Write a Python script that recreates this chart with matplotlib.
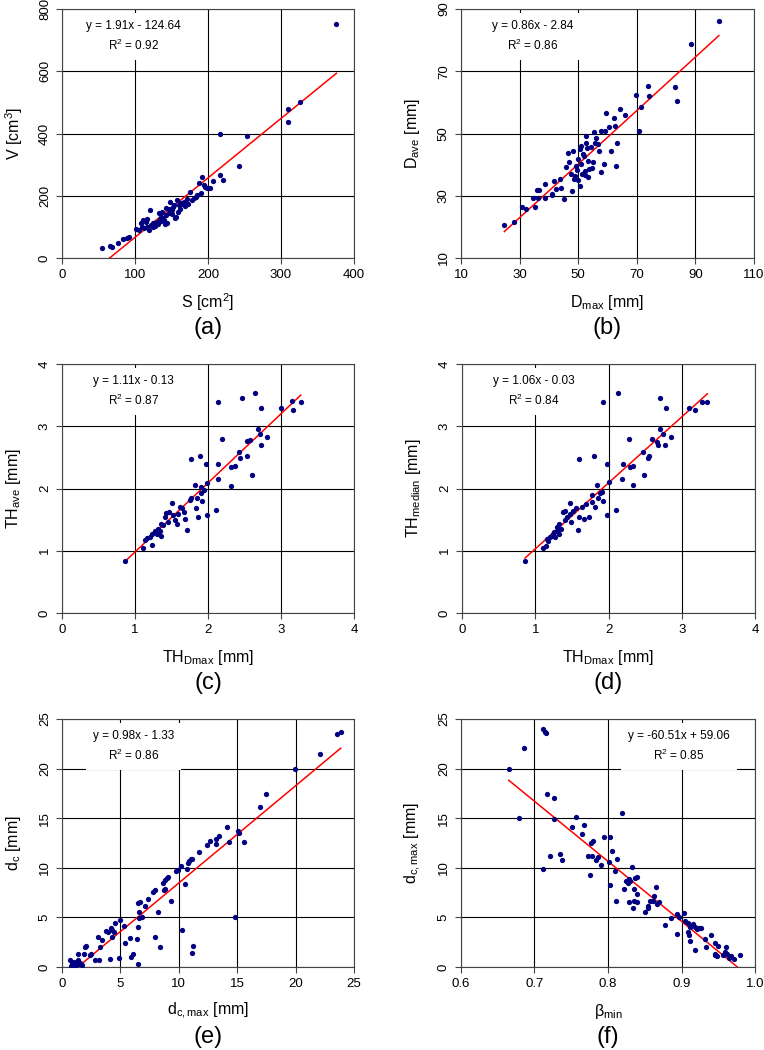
import numpy as np
import matplotlib
matplotlib.use('Agg')
import matplotlib.pyplot as plt

plt.rcParams['font.family'] = ['Liberation Sans', 'DejaVu Sans']
plt.rcParams['mathtext.fontset'] = 'custom'
plt.rcParams['mathtext.rm'] = 'Liberation Sans'
plt.rcParams['mathtext.it'] = 'Liberation Sans:italic'
plt.rcParams['mathtext.default'] = 'regular'

# (a) surface vs volume
S_a = [55, 66, 68, 77, 84, 89, 92, 101, 105, 108, 110, 111, 113, 115, 117, 117, 119,
       121, 122, 124, 125, 126, 128, 130, 131, 133, 134, 135, 136, 137, 138, 140, 141,
       142, 143, 144, 146, 147, 148, 150, 151, 152, 153, 155, 156, 158, 159, 160, 162,
       163, 165, 167, 169, 171, 173, 175, 178, 181, 183, 185, 187, 190, 192, 194, 196,
       199, 203, 207, 216, 217, 220, 242, 254, 309, 310, 326, 376]
V_a = [31, 38, 34, 47, 61, 65, 66, 93, 90, 111, 100, 122, 95, 117, 124, 100, 90,
       154, 105, 100, 112, 111, 104, 117, 108, 143, 126, 133, 120, 149, 128, 122, 110,
       138, 160, 111, 159, 146, 181, 140, 154, 165, 170, 128, 133, 186, 149, 170, 159,
       178, 175, 181, 168, 191, 175, 213, 186, 192, 197, 202, 240, 210, 261, 234, 229,
       224, 224, 247, 400, 268, 252, 296, 392, 437, 478, 500, 753]

# (b) Dmax vs Dave
Dmax_b = [24.8, 28.2, 30.8, 32.1, 34.5, 35.3, 35.9, 36.7, 36.4, 38.5, 38.5, 41.0, 41.2,
          41.9, 42.3, 43.8, 44.1, 45.3, 45.7, 46.6, 46.8, 47.5, 47.9, 48.3, 48.6, 49.2,
          49.5, 49.8, 50.0, 50.6, 50.6, 50.9, 51.1, 51.4, 52.0, 52.3, 52.5, 52.8, 53.2,
          53.4, 53.6, 54.3, 55.1, 55.4, 55.7, 56.2, 56.8, 57.1, 57.9, 57.9, 58.8, 59.3,
          59.6, 60.4, 61.1, 62.2, 62.7, 63.0, 63.3, 64.1, 66.0, 69.8, 70.9, 71.5, 73.8,
          74.1, 82.9, 83.8, 88.6, 98.0, 51.5, 53.0, 49.0, 52.2, 54.8]
Dave_b = [20.5, 21.7, 26.3, 25.8, 29.2, 26.5, 31.8, 32.0, 29.2, 33.9, 29.2, 30.2, 30.7,
          34.7, 32.3, 35.5, 32.6, 28.8, 39.2, 43.7, 40.8, 37.1, 31.5, 44.5, 35.5, 39.7,
          38.4, 35.0, 41.9, 45.0, 33.1, 40.3, 46.1, 37.1, 42.9, 38.1, 49.3, 47.1, 41.3,
          36.0, 38.7, 45.6, 40.8, 50.6, 47.1, 48.7, 46.6, 44.5, 50.8, 37.6, 40.1, 50.8,
          56.5, 52.1, 44.5, 55.1, 52.4, 39.4, 47.1, 58.0, 55.9, 62.5, 50.8, 58.6, 65.3,
          62.1, 64.8, 60.6, 78.8, 86.0, 43.5, 45.5, 36.5, 36.8, 39.0]

# (c) TH_Dmax vs TH_ave
THd_c = [0.86, 1.11, 1.14, 1.16, 1.23, 1.20, 1.23, 1.27, 1.28, 1.30, 1.32, 1.34, 1.35,
         1.36, 1.38, 1.41, 1.43, 1.45, 1.47, 1.50, 1.52, 1.55, 1.57, 1.59, 1.62, 1.64,
         1.67, 1.69, 1.71, 1.75, 1.77, 1.77, 1.82, 1.83, 1.85, 1.86, 1.89, 1.90, 1.91,
         1.92, 1.95, 1.97, 1.98, 1.99, 2.11, 2.14, 2.14, 2.14, 2.19, 2.31, 2.32, 2.37,
         2.43, 2.44, 2.46, 2.54, 2.54, 2.57, 2.60, 2.65, 2.68, 2.71, 2.73, 2.73, 2.81,
         3.00, 3.15, 3.16, 3.27]
THa_c = [0.84, 1.05, 1.17, 1.21, 1.09, 1.22, 1.27, 1.32, 1.30, 1.27, 1.35, 1.31, 1.43,
         1.24, 1.41, 1.54, 1.61, 1.46, 1.62, 1.76, 1.57, 1.49, 1.43, 1.59, 1.70, 1.68,
         1.62, 1.51, 1.34, 1.81, 1.84, 2.47, 2.06, 1.69, 1.85, 1.54, 2.52, 1.93, 2.02,
         1.80, 1.97, 2.39, 2.09, 1.57, 1.66, 3.39, 2.39, 2.15, 2.80, 2.04, 2.34, 2.36,
         2.58, 2.49, 3.46, 2.52, 2.77, 2.78, 2.21, 3.54, 2.95, 2.88, 2.70, 3.30, 2.82,
         3.29, 3.41, 3.26, 3.39]

# (d) TH_Dmax vs TH_median
THd_d = [0.86, 1.10, 1.14, 1.16, 1.18, 1.20, 1.23, 1.24, 1.26, 1.27, 1.30, 1.30, 1.32,
         1.33, 1.35, 1.38, 1.40, 1.40, 1.43, 1.47, 1.48, 1.49, 1.51, 1.55, 1.58, 1.60,
         1.60, 1.64, 1.66, 1.69, 1.73, 1.77, 1.78, 1.80, 1.81, 1.84, 1.86, 1.89, 1.91,
         1.93, 1.92, 1.98, 1.98, 2.00, 2.10, 2.13, 2.18, 2.20, 2.28, 2.30, 2.34, 2.33,
         2.47, 2.54, 2.55, 2.48, 2.60, 2.66, 2.68, 2.70, 2.70, 2.75, 2.77, 2.79, 2.85,
         3.10, 3.18, 3.28, 3.35]
THm_d = [0.84, 1.05, 1.08, 1.19, 1.16, 1.22, 1.24, 1.27, 1.30, 1.22, 1.32, 1.38, 1.27,
         1.43, 1.35, 1.62, 1.64, 1.49, 1.54, 1.59, 1.76, 1.46, 1.64, 1.68, 1.34, 2.48,
         1.55, 1.70, 1.51, 1.75, 1.54, 1.78, 1.89, 2.52, 1.70, 2.05, 1.85, 1.92, 1.95,
         3.39, 1.80, 2.39, 1.57, 2.11, 1.66, 3.54, 2.15, 2.39, 2.80, 2.34, 2.36, 2.05,
         2.58, 2.49, 2.52, 2.21, 2.79, 2.75, 2.70, 3.46, 2.95, 2.88, 2.70, 3.29, 2.82,
         3.29, 3.26, 3.39, 3.39]

# (e) dc,max vs dc
dcm_e = [0.71, 0.86, 1.00, 1.14, 1.29, 1.37, 1.43, 1.57, 1.71, 0.80, 1.09, 1.37, 1.94,
         2.06, 1.86, 2.51, 2.43, 2.80, 3.20, 3.09, 3.29, 3.43, 3.77, 3.94, 4.14, 4.23,
         4.29, 4.43, 4.29, 4.51, 4.86, 5.00, 5.29, 5.43, 5.86, 5.94, 6.09, 6.43, 6.51,
         6.51, 6.63, 6.86, 6.63, 6.51, 6.66, 7.14, 7.37, 8.00, 8.23, 8.43, 7.77, 7.94,
         8.71, 8.80, 9.29, 8.66, 8.80, 9.00, 9.09, 9.77, 9.94, 10.29, 10.57, 10.20, 10.80,
         10.86, 11.03, 11.14, 11.20, 11.14, 10.71, 11.71, 14.80, 12.40, 12.63, 13.17,
         13.20, 13.45, 14.11, 14.34, 15.05, 15.17, 15.54, 16.96, 17.45, 19.95, 22.09,
         23.52, 23.86]
dc_e = [0.68, 0.34, 0.51, 0.17, 0.34, 0.68, 0.27, 0.41, 0.17, 0.07, 0.07, 1.36, 1.97,
        2.10, 1.36, 1.36, 1.19, 0.75, 0.68, 2.98, 2.03, 2.71, 3.66, 3.56, 0.81, 3.90,
        3.73, 3.56, 3.05, 4.41, 0.95, 4.75, 4.14, 2.37, 2.88, 1.02, 1.36, 2.78, 0.34,
        4.00, 4.92, 5.02, 5.59, 6.44, 6.54, 6.10, 6.85, 3.05, 5.59, 2.03, 7.56, 7.73,
        7.73, 7.86, 6.68, 8.47, 8.75, 8.98, 9.08, 9.66, 9.76, 3.73, 8.41, 10.17, 10.50,
        10.68, 10.85, 10.92, 2.10, 1.42, 9.90, 11.60, 5.02, 12.25, 12.68, 12.42,
        12.95, 13.22, 14.09, 12.58, 13.76, 13.49, 12.65, 16.14, 17.48, 19.93, 21.48,
        23.52, 23.72]

# (f) beta_min vs dc,max
beta_f = [0.665, 0.679, 0.686, 0.712, 0.714, 0.715, 0.712, 0.717, 0.721, 0.727, 0.727,
          0.735, 0.737, 0.751, 0.757, 0.764, 0.767, 0.773, 0.777, 0.780, 0.776, 0.778,
          0.784, 0.786, 0.790, 0.794, 0.801, 0.803, 0.803, 0.805, 0.809, 0.812, 0.811,
          0.819, 0.822, 0.825, 0.827, 0.828, 0.830, 0.829, 0.832, 0.834, 0.835, 0.837,
          0.840, 0.836, 0.840, 0.840, 0.851, 0.854, 0.855, 0.857, 0.861, 0.862, 0.865,
          0.867, 0.869, 0.877, 0.886, 0.894, 0.897, 0.894, 0.904, 0.905, 0.909, 0.911,
          0.909, 0.910, 0.912, 0.915, 0.919, 0.921, 0.924, 0.927, 0.918, 0.932, 0.934,
          0.940, 0.946, 0.949, 0.945, 0.948, 0.946, 0.961, 0.956, 0.959, 0.962, 0.965,
          0.968, 0.971, 0.980]
dcm_f = [19.93, 15.07, 22.05, 23.96, 23.72, 23.56, 9.87, 17.45, 11.21, 14.90, 17.01,
         11.38, 10.77, 14.09, 15.17, 13.39, 14.30, 11.14, 12.48, 12.72, 9.30, 11.21,
         10.81, 11.04, 10.30, 13.15, 10.57, 13.15, 8.29, 11.71, 9.70, 10.87, 6.68,
         15.50, 7.85, 8.69, 8.46, 8.86, 8.62, 6.51, 10.13, 5.91, 7.85, 8.96,
         9.06, 6.61, 6.51, 7.38, 5.50, 6.17, 5.94, 6.61, 6.61, 7.11, 8.05,
         6.38, 6.51, 4.19, 4.93, 5.34, 5.03, 3.32, 5.44, 4.60, 4.43, 4.03,
         3.49, 3.26, 2.58, 4.36, 4.03, 3.83, 3.93, 3.93, 1.74, 2.82, 1.98,
         3.19, 2.42, 2.15, 1.24, 1.07, 1.34, 1.98, 1.24, 1.48, 1.34, 0.91,
         1.14, 0.84, 1.17]

W, H = 764, 1050
fig = plt.figure(figsize=(W / 100, H / 100), dpi=100)


def panel(px, x, y, slope, icpt, eq, xlim, xticks, ylim, yticks, xlabel, ylabel,
          cap, eqx=0.245, xticklabels=None):
    l, t, r, b = px
    ax = fig.add_axes([l / W, 1 - b / H, (r - l) / W, (b - t) / H])
    ax.set_xlim(xlim)
    ax.set_ylim(ylim)
    if xticklabels is None:
        xticklabels = [str(v) for v in xticks]
    ax.set_xticks(list(xticks), labels=xticklabels)
    ax.set_yticks(list(yticks), labels=[str(v) for v in yticks],
                  rotation=90, va='center')
    ax.grid(True, color='black', lw=0.8)
    ax.set_axisbelow(True)
    for s in ax.spines.values():
        s.set_color('#444444')
        s.set_linewidth(0.8)
    ax.tick_params(direction='out', length=4, width=0.8, color='#444444',
                   labelsize=9.5, pad=4)
    xs = np.array([min(x), max(x)])
    ax.plot(xs, slope * xs + icpt, color='red', lw=1.1, zorder=3)
    ax.plot(x, y, 'o', color='#000080', ms=3.8, mec='none', zorder=4)
    ax.text(eqx, 0.89, eq, transform=ax.transAxes, ha='center', va='center',
            fontsize=8.5, linespacing=1.45, zorder=5,
            bbox=dict(boxstyle='square,pad=0.6', fc='white', ec='none'))
    ax.set_xlabel(xlabel, fontsize=11.5, va='center')
    ax.xaxis.set_label_coords(0.5, -0.178)
    ax.set_ylabel(ylabel, fontsize=11.5, va='center')
    ax.yaxis.set_label_coords(-0.165, 0.5)
    ax.text(0.5, -0.282, cap, transform=ax.transAxes, ha='center', va='center',
            fontsize=17)
    return ax


panel((62, 9, 354, 258), S_a, V_a, 1.91, -124.64,
      'y = 1.91x - 124.64\nR$^2$ = 0.92', range(0, 401, 100) and (0, 400),
      range(0, 401, 100), (0, 800), range(0, 801, 200),
      'S [cm$^2$]', 'V [cm$^3$]', '(a)')
panel((461, 9, 754, 258), Dmax_b, Dave_b, 0.86, -2.84,
      'y = 0.86x - 2.84\nR$^2$ = 0.86', (10, 110), range(10, 111, 20),
      (10, 90), range(10, 91, 20), 'D$_{max}$ [mm]', 'D$_{ave}$ [mm]', '(b)')
panel((62, 364, 354, 613), THd_c, THa_c, 1.11, -0.13,
      'y = 1.11x - 0.13\nR$^2$ = 0.87', (0, 4), range(0, 5),
      (0, 4), range(0, 5), 'TH$_{Dmax}$ [mm]', 'TH$_{ave}$ [mm]', '(c)')
panel((462, 364, 755, 613), THd_d, THm_d, 1.06, -0.03,
      'y = 1.06x - 0.03\nR$^2$ = 0.84', (0, 4), range(0, 5),
      (0, 4), range(0, 5), 'TH$_{Dmax}$ [mm]', 'TH$_{median}$ [mm]', '(d)')
panel((62, 719, 354, 967), dcm_e, dc_e, 0.98, -1.33,
      'y = 0.98x - 1.33\nR$^2$ = 0.86', (0, 25), range(0, 26, 5),
      (0, 25), range(0, 26, 5), 'd$_{c,max}$ [mm]', 'd$_{c}$ [mm]', '(e)')
panel((461, 719, 755, 967), beta_f, dcm_f, -60.51, 59.06,
      'y = -60.51x + 59.06\nR$^2$ = 0.85', (0.6, 1.0), [0.6, 0.7, 0.8, 0.9, 1.0],
      (0, 25), range(0, 26, 5), 'β$_{min}$', 'd$_{c,max}$ [mm]', '(f)', eqx=0.74,
      xticklabels=['0.6', '0.7', '0.8', '0.9', '1.0'])

fig.savefig('out.png', dpi=100)
